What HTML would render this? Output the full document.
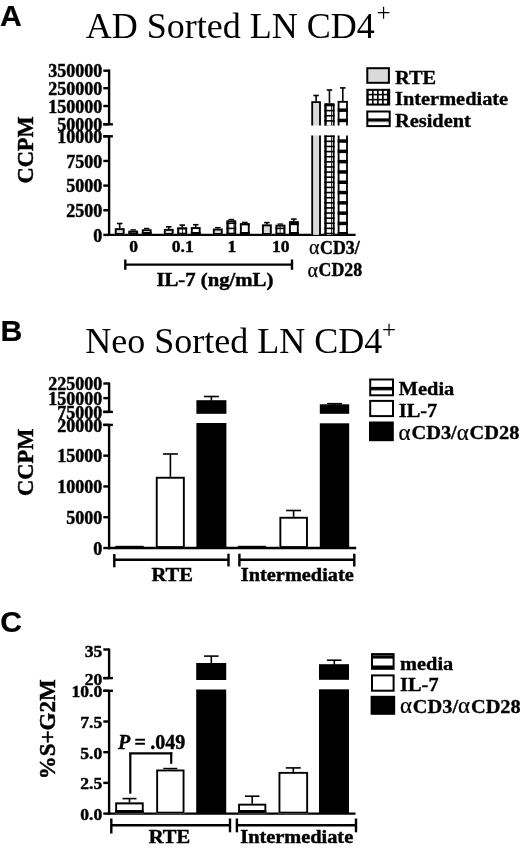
<!DOCTYPE html>
<html><head><meta charset="utf-8"><style>
html,body{margin:0;padding:0;background:#fff;width:520px;height:848px;overflow:hidden}
svg{display:block;filter:grayscale(1) blur(0.3px)}
</style></head><body>
<svg width="520" height="848" viewBox="0 0 520 848">
<defs>
<pattern id="stripeA" patternUnits="userSpaceOnUse" x="0" y="139.3" width="10" height="10.3">
<rect width="10" height="10.3" fill="#fff"/><rect width="10" height="3.5" fill="#000"/></pattern>
<pattern id="gridL" patternUnits="userSpaceOnUse" x="366.9" y="88.7" width="5.05" height="5.05">
<rect width="5.05" height="5.05" fill="#fff"/><rect width="1.6" height="5.05" fill="#000"/><rect width="5.05" height="1.6" fill="#000"/></pattern>
<pattern id="stripeLA" patternUnits="userSpaceOnUse" x="0" y="118.4" width="10" height="20">
<rect width="10" height="20" fill="#fff"/><rect width="10" height="3.3" fill="#000"/></pattern>
<pattern id="stripeLB" patternUnits="userSpaceOnUse" x="0" y="386.9" width="10" height="20">
<rect width="10" height="20" fill="#fff"/><rect width="10" height="3.4" fill="#000"/></pattern>
<pattern id="stripeB" patternUnits="userSpaceOnUse" x="0" y="545" width="10" height="10.2">
<rect width="10" height="10.2" fill="#fff"/><rect width="10" height="2.5" fill="#000"/></pattern>
<pattern id="stripeC" patternUnits="userSpaceOnUse" x="0" y="810.3" width="10" height="10.2">
<rect width="10" height="10.2" fill="#fff"/><rect width="10" height="2.5" fill="#000"/></pattern>
<pattern id="stripeLC" patternUnits="userSpaceOnUse" x="0" y="665.5" width="10" height="10.2">
<rect width="10" height="10.2" fill="#fff"/><rect width="10" height="3.3" fill="#000"/></pattern>
<pattern id="gridG" patternUnits="userSpaceOnUse" x="181.85" y="140.55" width="5.13" height="5.12"><rect width="5.13" height="5.12" fill="#fff"/><rect width="0.75" height="5.12" fill="#000"/><rect width="5.13" height="1.6" fill="#000"/></pattern></defs>
<text x="-0.10" y="26.00" font-family='"Liberation Sans", sans-serif' font-size="30.2" font-weight="bold" text-anchor="start" stroke="#000" stroke-width="0.2" >A</text>
<text x="85.8" y="38" font-family='"Liberation Serif", serif' font-size="36">AD Sorted LN CD4<tspan dx="1.8" dy="-17.5" font-size="25">+</tspan></text>
<line x1="109.10" y1="69.50" x2="109.10" y2="124.30" stroke="#000" stroke-width="2.4"/>
<line x1="103.30" y1="70.70" x2="109.10" y2="70.70" stroke="#000" stroke-width="2.4"/>
<text x="102.20" y="77.30" font-family='"Liberation Serif", serif' font-size="18" font-weight="bold" text-anchor="end" stroke="#000" stroke-width="0.45" >350000</text>
<line x1="103.30" y1="88.20" x2="109.10" y2="88.20" stroke="#000" stroke-width="2.4"/>
<text x="102.20" y="94.80" font-family='"Liberation Serif", serif' font-size="18" font-weight="bold" text-anchor="end" stroke="#000" stroke-width="0.45" >250000</text>
<line x1="103.30" y1="106.00" x2="109.10" y2="106.00" stroke="#000" stroke-width="2.4"/>
<text x="102.20" y="112.60" font-family='"Liberation Serif", serif' font-size="18" font-weight="bold" text-anchor="end" stroke="#000" stroke-width="0.45" >150000</text>
<line x1="103.30" y1="124.30" x2="109.10" y2="124.30" stroke="#000" stroke-width="2.4"/>
<text x="102.20" y="130.90" font-family='"Liberation Serif", serif' font-size="18" font-weight="bold" text-anchor="end" stroke="#000" stroke-width="0.45" >50000</text>
<line x1="103.30" y1="124.30" x2="112.90" y2="124.30" stroke="#000" stroke-width="2.4"/>
<line x1="103.30" y1="136.30" x2="112.90" y2="136.30" stroke="#000" stroke-width="2.4"/>
<line x1="109.10" y1="136.30" x2="109.10" y2="236.00" stroke="#000" stroke-width="2.4"/>
<line x1="103.30" y1="136.30" x2="109.10" y2="136.30" stroke="#000" stroke-width="2.4"/>
<text x="102.20" y="142.90" font-family='"Liberation Serif", serif' font-size="18" font-weight="bold" text-anchor="end" stroke="#000" stroke-width="0.45" >10000</text>
<line x1="103.30" y1="160.95" x2="109.10" y2="160.95" stroke="#000" stroke-width="2.4"/>
<text x="102.20" y="167.55" font-family='"Liberation Serif", serif' font-size="18" font-weight="bold" text-anchor="end" stroke="#000" stroke-width="0.45" >7500</text>
<line x1="103.30" y1="185.60" x2="109.10" y2="185.60" stroke="#000" stroke-width="2.4"/>
<text x="102.20" y="192.20" font-family='"Liberation Serif", serif' font-size="18" font-weight="bold" text-anchor="end" stroke="#000" stroke-width="0.45" >5000</text>
<line x1="103.30" y1="210.25" x2="109.10" y2="210.25" stroke="#000" stroke-width="2.4"/>
<text x="102.20" y="216.85" font-family='"Liberation Serif", serif' font-size="18" font-weight="bold" text-anchor="end" stroke="#000" stroke-width="0.45" >2500</text>
<line x1="103.30" y1="234.90" x2="109.10" y2="234.90" stroke="#000" stroke-width="2.4"/>
<text x="102.20" y="241.50" font-family='"Liberation Serif", serif' font-size="18" font-weight="bold" text-anchor="end" stroke="#000" stroke-width="0.45" >0</text>
<text x="0.00" y="0.00" font-family='"Liberation Serif", serif' font-size="23.5" font-weight="bold" text-anchor="middle" stroke="#000" stroke-width="0.45" transform="translate(32.9,149.9) rotate(-90) scale(0.955,1)">CCPM</text>
<line x1="107.90" y1="234.90" x2="355.60" y2="234.90" stroke="#000" stroke-width="2.4"/>
<line x1="119.70" y1="229.20" x2="119.70" y2="223.50" stroke="#000" stroke-width="1.6"/>
<line x1="116.95" y1="223.50" x2="122.45" y2="223.50" stroke="#000" stroke-width="1.6"/>
<rect x="114.80" y="228.20" width="9.80" height="6.70" fill="#dadada"/>
<rect x="115.75" y="229.15" width="7.90" height="4.80" fill="none" stroke="#000" stroke-width="1.9"/>
<line x1="133.20" y1="231.70" x2="133.20" y2="230.00" stroke="#000" stroke-width="1.6"/>
<line x1="130.45" y1="230.00" x2="135.95" y2="230.00" stroke="#000" stroke-width="1.6"/>
<rect x="128.30" y="230.70" width="9.80" height="4.20" fill="#fff"/>
<rect x="128.30" y="232.71" width="9.80" height="1.60" fill="#000"/>
<rect x="130.93" y="230.70" width="0.80" height="4.20" fill="#000"/>
<rect x="136.06" y="230.70" width="0.80" height="4.20" fill="#000"/>
<rect x="129.25" y="231.65" width="7.90" height="2.30" fill="none" stroke="#000" stroke-width="1.9"/>
<line x1="146.70" y1="230.30" x2="146.70" y2="228.60" stroke="#000" stroke-width="1.6"/>
<line x1="143.95" y1="228.60" x2="149.45" y2="228.60" stroke="#000" stroke-width="1.6"/>
<rect x="141.80" y="229.30" width="9.80" height="5.60" fill="#fff"/>
<rect x="141.80" y="232.00" width="9.80" height="2.90" fill="#000"/>
<rect x="142.75" y="230.25" width="7.90" height="3.70" fill="none" stroke="#000" stroke-width="1.9"/>
<line x1="168.75" y1="229.90" x2="168.75" y2="226.80" stroke="#000" stroke-width="1.6"/>
<line x1="166.00" y1="226.80" x2="171.50" y2="226.80" stroke="#000" stroke-width="1.6"/>
<rect x="163.85" y="228.90" width="9.80" height="6.00" fill="#dadada"/>
<rect x="164.80" y="229.85" width="7.90" height="4.10" fill="none" stroke="#000" stroke-width="1.9"/>
<line x1="182.25" y1="228.50" x2="182.25" y2="225.10" stroke="#000" stroke-width="1.6"/>
<line x1="179.50" y1="225.10" x2="185.00" y2="225.10" stroke="#000" stroke-width="1.6"/>
<rect x="177.35" y="227.50" width="9.80" height="7.40" fill="#fff"/>
<rect x="177.35" y="227.59" width="9.80" height="1.60" fill="#000"/>
<rect x="177.35" y="232.71" width="9.80" height="1.60" fill="#000"/>
<rect x="177.35" y="227.50" width="0.55" height="7.40" fill="#000"/>
<rect x="182.23" y="227.50" width="0.80" height="7.40" fill="#000"/>
<rect x="178.30" y="228.45" width="7.90" height="5.50" fill="none" stroke="#000" stroke-width="1.9"/>
<line x1="195.75" y1="228.10" x2="195.75" y2="224.70" stroke="#000" stroke-width="1.6"/>
<line x1="193.00" y1="224.70" x2="198.50" y2="224.70" stroke="#000" stroke-width="1.6"/>
<rect x="190.85" y="227.10" width="9.80" height="7.80" fill="#fff"/>
<rect x="190.85" y="232.00" width="9.80" height="2.90" fill="#000"/>
<rect x="191.80" y="228.05" width="7.90" height="5.90" fill="none" stroke="#000" stroke-width="1.9"/>
<line x1="217.80" y1="229.60" x2="217.80" y2="227.70" stroke="#000" stroke-width="1.6"/>
<line x1="215.05" y1="227.70" x2="220.55" y2="227.70" stroke="#000" stroke-width="1.6"/>
<rect x="212.90" y="228.60" width="9.80" height="6.30" fill="#dadada"/>
<rect x="213.85" y="229.55" width="7.90" height="4.40" fill="none" stroke="#000" stroke-width="1.9"/>
<line x1="231.30" y1="221.30" x2="231.30" y2="219.60" stroke="#000" stroke-width="1.6"/>
<line x1="228.55" y1="219.60" x2="234.05" y2="219.60" stroke="#000" stroke-width="1.6"/>
<rect x="226.40" y="220.30" width="9.80" height="14.60" fill="#fff"/>
<rect x="226.40" y="222.47" width="9.80" height="1.60" fill="#000"/>
<rect x="226.40" y="227.59" width="9.80" height="1.60" fill="#000"/>
<rect x="226.40" y="232.71" width="9.80" height="1.60" fill="#000"/>
<rect x="228.40" y="220.30" width="0.80" height="14.60" fill="#000"/>
<rect x="233.53" y="220.30" width="0.80" height="14.60" fill="#000"/>
<rect x="227.35" y="221.25" width="7.90" height="12.70" fill="none" stroke="#000" stroke-width="1.9"/>
<line x1="244.80" y1="224.30" x2="244.80" y2="222.50" stroke="#000" stroke-width="1.6"/>
<line x1="242.05" y1="222.50" x2="247.55" y2="222.50" stroke="#000" stroke-width="1.6"/>
<rect x="239.90" y="223.30" width="9.80" height="11.60" fill="#fff"/>
<rect x="239.90" y="223.30" width="9.80" height="1.90" fill="#000"/>
<rect x="239.90" y="232.00" width="9.80" height="2.90" fill="#000"/>
<rect x="240.85" y="224.25" width="7.90" height="9.70" fill="none" stroke="#000" stroke-width="1.9"/>
<line x1="266.85" y1="225.40" x2="266.85" y2="222.60" stroke="#000" stroke-width="1.6"/>
<line x1="264.10" y1="222.60" x2="269.60" y2="222.60" stroke="#000" stroke-width="1.6"/>
<rect x="261.95" y="224.40" width="9.80" height="10.50" fill="#dadada"/>
<rect x="262.90" y="225.35" width="7.90" height="8.60" fill="none" stroke="#000" stroke-width="1.9"/>
<line x1="280.35" y1="225.70" x2="280.35" y2="224.20" stroke="#000" stroke-width="1.6"/>
<line x1="277.60" y1="224.20" x2="283.10" y2="224.20" stroke="#000" stroke-width="1.6"/>
<rect x="275.45" y="224.70" width="9.80" height="10.20" fill="#fff"/>
<rect x="275.45" y="227.59" width="9.80" height="1.60" fill="#000"/>
<rect x="275.45" y="232.71" width="9.80" height="1.60" fill="#000"/>
<rect x="279.70" y="224.70" width="0.80" height="10.20" fill="#000"/>
<rect x="284.83" y="224.70" width="0.42" height="10.20" fill="#000"/>
<rect x="276.40" y="225.65" width="7.90" height="8.30" fill="none" stroke="#000" stroke-width="1.9"/>
<line x1="293.85" y1="222.20" x2="293.85" y2="219.10" stroke="#000" stroke-width="1.6"/>
<line x1="291.10" y1="219.10" x2="296.60" y2="219.10" stroke="#000" stroke-width="1.6"/>
<rect x="288.95" y="221.20" width="9.80" height="13.70" fill="#fff"/>
<rect x="288.95" y="221.70" width="9.80" height="3.50" fill="#000"/>
<rect x="288.95" y="232.00" width="9.80" height="2.90" fill="#000"/>
<rect x="289.90" y="222.15" width="7.90" height="11.80" fill="none" stroke="#000" stroke-width="1.9"/>
<line x1="316.10" y1="102.30" x2="316.10" y2="95.50" stroke="#000" stroke-width="1.6"/>
<line x1="313.35" y1="95.50" x2="318.85" y2="95.50" stroke="#000" stroke-width="1.6"/>
<rect x="311.30" y="101.30" width="9.60" height="24.10" fill="#dadada"/>
<path d="M312.20,125.40V102.20H320.00V125.40" fill="none" stroke="#000" stroke-width="1.8"/>
<rect x="311.30" y="135.40" width="9.60" height="99.50" fill="#dadada"/>
<path d="M312.20,234.90V135.40M320.00,135.40V234.90" fill="none" stroke="#000" stroke-width="1.8"/>
<line x1="329.45" y1="104.30" x2="329.45" y2="90.00" stroke="#000" stroke-width="1.6"/>
<line x1="326.70" y1="90.00" x2="332.20" y2="90.00" stroke="#000" stroke-width="1.6"/>
<rect x="324.30" y="103.30" width="10.30" height="22.10" fill="#fff"/>
<rect x="324.30" y="104.71" width="10.30" height="1.60" fill="#000"/>
<rect x="324.30" y="109.83" width="10.30" height="1.60" fill="#000"/>
<rect x="324.30" y="114.95" width="10.30" height="1.60" fill="#000"/>
<rect x="324.30" y="120.07" width="10.30" height="1.60" fill="#000"/>
<rect x="324.30" y="125.19" width="10.30" height="0.21" fill="#000"/>
<rect x="325.87" y="103.30" width="0.80" height="22.10" fill="#000"/>
<rect x="331.00" y="103.30" width="0.80" height="22.10" fill="#000"/>
<path d="M325.20,125.40V104.20H333.70V125.40" fill="none" stroke="#000" stroke-width="1.8"/>
<rect x="324.30" y="135.40" width="10.30" height="99.50" fill="#fff"/>
<rect x="324.30" y="135.43" width="10.30" height="1.60" fill="#000"/>
<rect x="324.30" y="140.55" width="10.30" height="1.60" fill="#000"/>
<rect x="324.30" y="145.67" width="10.30" height="1.60" fill="#000"/>
<rect x="324.30" y="150.79" width="10.30" height="1.60" fill="#000"/>
<rect x="324.30" y="155.91" width="10.30" height="1.60" fill="#000"/>
<rect x="324.30" y="161.03" width="10.30" height="1.60" fill="#000"/>
<rect x="324.30" y="166.15" width="10.30" height="1.60" fill="#000"/>
<rect x="324.30" y="171.27" width="10.30" height="1.60" fill="#000"/>
<rect x="324.30" y="176.39" width="10.30" height="1.60" fill="#000"/>
<rect x="324.30" y="181.51" width="10.30" height="1.60" fill="#000"/>
<rect x="324.30" y="186.63" width="10.30" height="1.60" fill="#000"/>
<rect x="324.30" y="191.75" width="10.30" height="1.60" fill="#000"/>
<rect x="324.30" y="196.87" width="10.30" height="1.60" fill="#000"/>
<rect x="324.30" y="201.99" width="10.30" height="1.60" fill="#000"/>
<rect x="324.30" y="207.11" width="10.30" height="1.60" fill="#000"/>
<rect x="324.30" y="212.23" width="10.30" height="1.60" fill="#000"/>
<rect x="324.30" y="217.35" width="10.30" height="1.60" fill="#000"/>
<rect x="324.30" y="222.47" width="10.30" height="1.60" fill="#000"/>
<rect x="324.30" y="227.59" width="10.30" height="1.60" fill="#000"/>
<rect x="324.30" y="232.71" width="10.30" height="1.60" fill="#000"/>
<rect x="325.87" y="135.40" width="0.80" height="99.50" fill="#000"/>
<rect x="331.00" y="135.40" width="0.80" height="99.50" fill="#000"/>
<path d="M325.20,234.90V135.40M333.70,135.40V234.90" fill="none" stroke="#000" stroke-width="1.8"/>
<line x1="342.80" y1="101.90" x2="342.80" y2="87.90" stroke="#000" stroke-width="1.6"/>
<line x1="340.05" y1="87.90" x2="345.55" y2="87.90" stroke="#000" stroke-width="1.6"/>
<rect x="337.70" y="100.90" width="10.20" height="24.50" fill="#fff"/>
<rect x="337.70" y="100.90" width="10.20" height="0.70" fill="#000"/>
<rect x="337.70" y="108.40" width="10.20" height="3.50" fill="#000"/>
<rect x="337.70" y="118.70" width="10.20" height="3.50" fill="#000"/>
<path d="M338.60,125.40V101.80H347.00V125.40" fill="none" stroke="#000" stroke-width="1.8"/>
<rect x="337.70" y="135.40" width="10.20" height="99.50" fill="#fff"/>
<rect x="337.70" y="139.30" width="10.20" height="3.50" fill="#000"/>
<rect x="337.70" y="149.60" width="10.20" height="3.50" fill="#000"/>
<rect x="337.70" y="159.90" width="10.20" height="3.50" fill="#000"/>
<rect x="337.70" y="170.20" width="10.20" height="3.50" fill="#000"/>
<rect x="337.70" y="180.50" width="10.20" height="3.50" fill="#000"/>
<rect x="337.70" y="190.80" width="10.20" height="3.50" fill="#000"/>
<rect x="337.70" y="201.10" width="10.20" height="3.50" fill="#000"/>
<rect x="337.70" y="211.40" width="10.20" height="3.50" fill="#000"/>
<rect x="337.70" y="221.70" width="10.20" height="3.50" fill="#000"/>
<rect x="337.70" y="232.00" width="10.20" height="2.90" fill="#000"/>
<path d="M338.60,234.90V135.40M347.00,135.40V234.90" fill="none" stroke="#000" stroke-width="1.8"/>
<text x="133.70" y="252.30" font-family='"Liberation Serif", serif' font-size="17.5" font-weight="bold" text-anchor="middle" stroke="#000" stroke-width="0.45" >0</text>
<text x="182.75" y="252.30" font-family='"Liberation Serif", serif' font-size="17.5" font-weight="bold" text-anchor="middle" stroke="#000" stroke-width="0.45" >0.1</text>
<text x="231.80" y="252.30" font-family='"Liberation Serif", serif' font-size="17.5" font-weight="bold" text-anchor="middle" stroke="#000" stroke-width="0.45" >1</text>
<text x="280.85" y="252.30" font-family='"Liberation Serif", serif' font-size="17.5" font-weight="bold" text-anchor="middle" stroke="#000" stroke-width="0.45" >10</text>
<text x="334.30" y="253.60" font-family='"Liberation Serif", serif' font-size="17.8" font-weight="bold" text-anchor="middle" stroke="#000" stroke-width="0.45" ><tspan font-weight="normal" font-size="20" stroke-width="0.25" dy="0.7">&#945;</tspan><tspan dy="-0.7" dx="0.6">CD3/</tspan></text>
<text x="334.80" y="276.20" font-family='"Liberation Serif", serif' font-size="17.8" font-weight="bold" text-anchor="middle" stroke="#000" stroke-width="0.45" ><tspan font-weight="normal" font-size="20" stroke-width="0.25" dy="0.7">&#945;</tspan><tspan dy="-0.7" dx="0.6">CD28</tspan></text>
<line x1="125.30" y1="264.60" x2="292.00" y2="264.60" stroke="#000" stroke-width="2.4"/>
<line x1="125.30" y1="259.50" x2="125.30" y2="269.80" stroke="#000" stroke-width="2.4"/>
<line x1="292.00" y1="259.50" x2="292.00" y2="269.80" stroke="#000" stroke-width="2.4"/>
<text transform="translate(214.90,285.90) scale(1.08,1)" font-family='"Liberation Serif", serif' font-size="19.2" font-weight="bold" text-anchor="middle" stroke="#000" stroke-width="0.45" >IL-7 (ng/mL)</text>
<rect x="367.3" y="68.2" width="21.6" height="14.6" fill="#dadada" stroke="#000" stroke-width="2"/>
<rect x="367.3" y="89.8" width="21.9" height="14.8" fill="url(#gridL)" stroke="#000" stroke-width="2"/>
<rect x="367.3" y="111.5" width="22.4" height="14.6" fill="url(#stripeLA)" stroke="#000" stroke-width="2"/>
<text transform="translate(395.00,83.90) scale(1.035,1)" font-family='"Liberation Serif", serif' font-size="19.7" font-weight="bold" text-anchor="start" stroke="#000" stroke-width="0.35" >RTE</text>
<text transform="translate(395.00,105.20) scale(1.035,1)" font-family='"Liberation Serif", serif' font-size="19.7" font-weight="bold" text-anchor="start" stroke="#000" stroke-width="0.35" >Intermediate</text>
<text transform="translate(395.00,126.60) scale(1.035,1)" font-family='"Liberation Serif", serif' font-size="19.7" font-weight="bold" text-anchor="start" stroke="#000" stroke-width="0.35" >Resident</text>
<text x="0.60" y="340.80" font-family='"Liberation Sans", sans-serif' font-size="30.2" font-weight="bold" text-anchor="start" stroke="#000" stroke-width="0.2" >B</text>
<text x="85.2" y="353.0" font-family='"Liberation Serif", serif' font-size="36">Neo Sorted LN CD4<tspan dx="-0.2" dy="-15.5" font-size="25">+</tspan></text>
<line x1="109.10" y1="382.50" x2="109.10" y2="411.90" stroke="#000" stroke-width="2.4"/>
<line x1="103.30" y1="383.50" x2="109.10" y2="383.50" stroke="#000" stroke-width="2.4"/>
<text x="102.20" y="390.10" font-family='"Liberation Serif", serif' font-size="18" font-weight="bold" text-anchor="end" stroke="#000" stroke-width="0.45" >225000</text>
<line x1="103.30" y1="398.10" x2="109.10" y2="398.10" stroke="#000" stroke-width="2.4"/>
<text x="102.20" y="404.70" font-family='"Liberation Serif", serif' font-size="18" font-weight="bold" text-anchor="end" stroke="#000" stroke-width="0.45" >150000</text>
<line x1="103.30" y1="411.90" x2="109.10" y2="411.90" stroke="#000" stroke-width="2.4"/>
<text x="102.20" y="418.50" font-family='"Liberation Serif", serif' font-size="18" font-weight="bold" text-anchor="end" stroke="#000" stroke-width="0.45" >75000</text>
<line x1="103.30" y1="411.90" x2="112.90" y2="411.90" stroke="#000" stroke-width="2.4"/>
<line x1="103.30" y1="424.90" x2="112.90" y2="424.90" stroke="#000" stroke-width="2.4"/>
<line x1="109.10" y1="424.90" x2="109.10" y2="549.20" stroke="#000" stroke-width="2.4"/>
<line x1="103.30" y1="424.90" x2="109.10" y2="424.90" stroke="#000" stroke-width="2.4"/>
<text x="102.20" y="431.50" font-family='"Liberation Serif", serif' font-size="18" font-weight="bold" text-anchor="end" stroke="#000" stroke-width="0.45" >20000</text>
<line x1="103.30" y1="455.67" x2="109.10" y2="455.67" stroke="#000" stroke-width="2.4"/>
<text x="102.20" y="462.27" font-family='"Liberation Serif", serif' font-size="18" font-weight="bold" text-anchor="end" stroke="#000" stroke-width="0.45" >15000</text>
<line x1="103.30" y1="486.45" x2="109.10" y2="486.45" stroke="#000" stroke-width="2.4"/>
<text x="102.20" y="493.05" font-family='"Liberation Serif", serif' font-size="18" font-weight="bold" text-anchor="end" stroke="#000" stroke-width="0.45" >10000</text>
<line x1="103.30" y1="517.23" x2="109.10" y2="517.23" stroke="#000" stroke-width="2.4"/>
<text x="102.20" y="523.83" font-family='"Liberation Serif", serif' font-size="18" font-weight="bold" text-anchor="end" stroke="#000" stroke-width="0.45" >5000</text>
<line x1="103.30" y1="548.00" x2="109.10" y2="548.00" stroke="#000" stroke-width="2.4"/>
<text x="102.20" y="554.60" font-family='"Liberation Serif", serif' font-size="18" font-weight="bold" text-anchor="end" stroke="#000" stroke-width="0.45" >0</text>
<text x="0.00" y="0.00" font-family='"Liberation Serif", serif' font-size="23.5" font-weight="bold" text-anchor="middle" stroke="#000" stroke-width="0.45" transform="translate(32.9,462.3) rotate(-90) scale(0.955,1)">CCPM</text>
<line x1="107.90" y1="548.00" x2="356.20" y2="548.00" stroke="#000" stroke-width="2.4"/>
<rect x="115.4" y="545.8" width="28.3" height="2" fill="#000"/>
<rect x="237.8" y="545.8" width="28.3" height="2" fill="#000"/>
<line x1="170.40" y1="478.00" x2="170.40" y2="454.00" stroke="#000" stroke-width="1.6"/>
<line x1="162.90" y1="454.00" x2="177.90" y2="454.00" stroke="#000" stroke-width="1.6"/>
<rect x="155.80" y="476.80" width="29.00" height="71.20" fill="#fff"/>
<rect x="156.75" y="477.75" width="27.10" height="69.30" fill="none" stroke="#000" stroke-width="1.9"/>
<line x1="211.40" y1="401.00" x2="211.40" y2="396.50" stroke="#000" stroke-width="1.6"/>
<line x1="203.90" y1="396.50" x2="218.90" y2="396.50" stroke="#000" stroke-width="1.6"/>
<rect x="196.4" y="400.2" width="30" height="13.6" fill="#000"/>
<rect x="196.4" y="423" width="30" height="125.00" fill="#000"/>
<line x1="293.60" y1="517.50" x2="293.60" y2="510.50" stroke="#000" stroke-width="1.6"/>
<line x1="286.10" y1="510.50" x2="301.10" y2="510.50" stroke="#000" stroke-width="1.6"/>
<rect x="279.40" y="516.80" width="28.50" height="31.20" fill="#fff"/>
<rect x="280.35" y="517.75" width="26.60" height="29.30" fill="none" stroke="#000" stroke-width="1.9"/>
<line x1="334.50" y1="405.00" x2="334.50" y2="403.70" stroke="#000" stroke-width="1.6"/>
<line x1="327.00" y1="403.70" x2="342.00" y2="403.70" stroke="#000" stroke-width="1.6"/>
<rect x="319.8" y="404.3" width="29.4" height="9.5" fill="#000"/>
<rect x="319.8" y="423.3" width="29.4" height="124.70" fill="#000"/>
<line x1="114.30" y1="559.70" x2="228.50" y2="559.70" stroke="#000" stroke-width="2.4"/>
<line x1="114.30" y1="554.00" x2="114.30" y2="567.30" stroke="#000" stroke-width="2.4"/>
<line x1="228.50" y1="553.70" x2="228.50" y2="566.50" stroke="#000" stroke-width="2.4"/>
<line x1="239.40" y1="559.70" x2="354.30" y2="559.70" stroke="#000" stroke-width="2.4"/>
<line x1="239.40" y1="553.70" x2="239.40" y2="566.50" stroke="#000" stroke-width="2.4"/>
<line x1="354.30" y1="553.70" x2="354.30" y2="566.50" stroke="#000" stroke-width="2.4"/>
<text transform="translate(172.20,581.20) scale(1.07,1)" font-family='"Liberation Serif", serif' font-size="19.2" font-weight="bold" text-anchor="middle" stroke="#000" stroke-width="0.45" >RTE</text>
<text transform="translate(297.30,581.40) scale(1.06,1)" font-family='"Liberation Serif", serif' font-size="19.2" font-weight="bold" text-anchor="middle" stroke="#000" stroke-width="0.45" >Intermediate</text>
<rect x="370.2" y="379.5" width="22.8" height="15.8" fill="url(#stripeLB)" stroke="#000" stroke-width="2"/>
<rect x="370.2" y="400.9" width="22.8" height="15.2" fill="#fff" stroke="#000" stroke-width="2"/>
<rect x="369" y="421.5" width="24.8" height="19.7" fill="#000"/>
<text transform="translate(398.80,395.20) scale(1.035,1)" font-family='"Liberation Serif", serif' font-size="19.7" font-weight="bold" text-anchor="start" stroke="#000" stroke-width="0.35" >Media</text>
<text transform="translate(398.80,417.20) scale(1.035,1)" font-family='"Liberation Serif", serif' font-size="19.7" font-weight="bold" text-anchor="start" stroke="#000" stroke-width="0.35" >IL-7</text>
<text transform="translate(398.60,439.30) scale(1.035,1)" font-family='"Liberation Serif", serif' font-size="19.7" font-weight="bold" text-anchor="start" stroke="#000" stroke-width="0.35" ><tspan font-weight="normal" font-size="22.2" stroke-width="0.25" dy="0.8">&#945;</tspan><tspan dy="-0.8" dx="0.8">CD3/</tspan><tspan font-weight="normal" font-size="22.2" stroke-width="0.25" dy="0.8">&#945;</tspan><tspan dy="-0.8" dx="0.8">CD28</tspan></text>
<text x="0.20" y="632.40" font-family='"Liberation Sans", sans-serif' font-size="30.2" font-weight="bold" text-anchor="start" stroke="#000" stroke-width="0.2" >C</text>
<line x1="109.10" y1="648.50" x2="109.10" y2="678.10" stroke="#000" stroke-width="2.4"/>
<line x1="103.30" y1="649.50" x2="109.10" y2="649.50" stroke="#000" stroke-width="2.4"/>
<line x1="103.30" y1="678.10" x2="109.10" y2="678.10" stroke="#000" stroke-width="2.4"/>
<line x1="103.30" y1="678.10" x2="112.90" y2="678.10" stroke="#000" stroke-width="2.4"/>
<text transform="translate(102.20,656.50) scale(1.01,1)" font-family='"Liberation Serif", serif' font-size="17.4" font-weight="bold" text-anchor="end" stroke="#000" stroke-width="0.45" >35</text>
<text transform="translate(102.20,685.30) scale(1.01,1)" font-family='"Liberation Serif", serif' font-size="17.4" font-weight="bold" text-anchor="end" stroke="#000" stroke-width="0.45" >20</text>
<line x1="103.30" y1="690.80" x2="112.90" y2="690.80" stroke="#000" stroke-width="2.4"/>
<line x1="109.10" y1="690.80" x2="109.10" y2="814.80" stroke="#000" stroke-width="2.4"/>
<line x1="103.30" y1="690.80" x2="109.10" y2="690.80" stroke="#000" stroke-width="2.4"/>
<text transform="translate(102.20,697.30) scale(1.01,1)" font-family='"Liberation Serif", serif' font-size="17.4" font-weight="bold" text-anchor="end" stroke="#000" stroke-width="0.45" >10.0</text>
<line x1="103.30" y1="721.50" x2="109.10" y2="721.50" stroke="#000" stroke-width="2.4"/>
<text transform="translate(102.20,728.00) scale(1.01,1)" font-family='"Liberation Serif", serif' font-size="17.4" font-weight="bold" text-anchor="end" stroke="#000" stroke-width="0.45" >7.5</text>
<line x1="103.30" y1="752.20" x2="109.10" y2="752.20" stroke="#000" stroke-width="2.4"/>
<text transform="translate(102.20,758.70) scale(1.01,1)" font-family='"Liberation Serif", serif' font-size="17.4" font-weight="bold" text-anchor="end" stroke="#000" stroke-width="0.45" >5.0</text>
<line x1="103.30" y1="782.90" x2="109.10" y2="782.90" stroke="#000" stroke-width="2.4"/>
<text transform="translate(102.20,789.40) scale(1.01,1)" font-family='"Liberation Serif", serif' font-size="17.4" font-weight="bold" text-anchor="end" stroke="#000" stroke-width="0.45" >2.5</text>
<line x1="103.30" y1="813.60" x2="109.10" y2="813.60" stroke="#000" stroke-width="2.4"/>
<text transform="translate(102.20,820.10) scale(1.01,1)" font-family='"Liberation Serif", serif' font-size="17.4" font-weight="bold" text-anchor="end" stroke="#000" stroke-width="0.45" >0.0</text>
<text x="0.00" y="0.00" font-family='"Liberation Serif", serif' font-size="23" font-weight="bold" text-anchor="middle" stroke="#000" stroke-width="0.45" transform="translate(55.2,729.3) rotate(-90)">%S+G2M</text>
<line x1="107.90" y1="813.60" x2="355.50" y2="813.60" stroke="#000" stroke-width="2.4"/>
<line x1="129.50" y1="803.00" x2="129.50" y2="798.60" stroke="#000" stroke-width="1.6"/>
<line x1="122.50" y1="798.60" x2="136.50" y2="798.60" stroke="#000" stroke-width="1.6"/>
<rect x="115.20" y="802.50" width="28.50" height="11.10" fill="#fff"/>
<rect x="115.20" y="802.50" width="28.50" height="0.30" fill="#000"/>
<rect x="115.20" y="810.00" width="28.50" height="3.00" fill="#000"/>
<rect x="116.15" y="803.45" width="26.60" height="9.20" fill="none" stroke="#000" stroke-width="1.9"/>
<line x1="170.30" y1="770.00" x2="170.30" y2="768.60" stroke="#000" stroke-width="1.6"/>
<line x1="163.30" y1="768.60" x2="177.30" y2="768.60" stroke="#000" stroke-width="1.6"/>
<rect x="156.20" y="769.50" width="28.30" height="44.10" fill="#fff"/>
<rect x="157.15" y="770.45" width="26.40" height="42.20" fill="none" stroke="#000" stroke-width="1.9"/>
<line x1="211.30" y1="664.00" x2="211.30" y2="656.10" stroke="#000" stroke-width="1.6"/>
<line x1="204.05" y1="656.10" x2="218.55" y2="656.10" stroke="#000" stroke-width="1.6"/>
<rect x="196.2" y="663" width="30" height="17" fill="#000"/>
<rect x="196.2" y="689.5" width="30" height="124.10" fill="#000"/>
<line x1="252.20" y1="804.00" x2="252.20" y2="796.20" stroke="#000" stroke-width="1.6"/>
<line x1="244.95" y1="796.20" x2="259.45" y2="796.20" stroke="#000" stroke-width="1.6"/>
<rect x="238.10" y="803.70" width="28.20" height="9.90" fill="#fff"/>
<rect x="238.10" y="810.00" width="28.20" height="3.00" fill="#000"/>
<rect x="239.05" y="804.65" width="26.30" height="8.00" fill="none" stroke="#000" stroke-width="1.9"/>
<line x1="293.30" y1="772.00" x2="293.30" y2="767.90" stroke="#000" stroke-width="1.6"/>
<line x1="285.80" y1="767.90" x2="300.80" y2="767.90" stroke="#000" stroke-width="1.6"/>
<rect x="278.50" y="771.90" width="29.60" height="41.70" fill="#fff"/>
<rect x="279.45" y="772.85" width="27.70" height="39.80" fill="none" stroke="#000" stroke-width="1.9"/>
<line x1="334.30" y1="665.00" x2="334.30" y2="660.20" stroke="#000" stroke-width="1.6"/>
<line x1="327.05" y1="660.20" x2="341.55" y2="660.20" stroke="#000" stroke-width="1.6"/>
<rect x="319" y="664.2" width="30" height="15.6" fill="#000"/>
<rect x="319" y="689.3" width="30" height="124.30" fill="#000"/>
<line x1="130.30" y1="793.70" x2="130.30" y2="753.40" stroke="#000" stroke-width="2.2"/>
<line x1="129.20" y1="753.40" x2="172.30" y2="753.40" stroke="#000" stroke-width="2.2"/>
<line x1="171.20" y1="752.30" x2="171.20" y2="763.80" stroke="#000" stroke-width="2.2"/>
<text x="117.9" y="748.8" font-family='"Liberation Serif", serif' font-size="20" font-weight="bold" stroke="#000" stroke-width="0.4" word-spacing="-0.6"><tspan font-style="italic">P</tspan> = .049</text>
<line x1="111.30" y1="825.20" x2="230.00" y2="825.20" stroke="#000" stroke-width="2.4"/>
<line x1="111.30" y1="818.50" x2="111.30" y2="833.50" stroke="#000" stroke-width="2.4"/>
<line x1="230.00" y1="818.50" x2="230.00" y2="832.30" stroke="#000" stroke-width="2.4"/>
<line x1="236.90" y1="825.20" x2="356.00" y2="825.20" stroke="#000" stroke-width="2.4"/>
<line x1="236.90" y1="818.50" x2="236.90" y2="832.30" stroke="#000" stroke-width="2.4"/>
<line x1="356.00" y1="818.50" x2="356.00" y2="832.30" stroke="#000" stroke-width="2.4"/>
<text transform="translate(169.40,842.70) scale(1.07,1)" font-family='"Liberation Serif", serif' font-size="19.2" font-weight="bold" text-anchor="middle" stroke="#000" stroke-width="0.45" >RTE</text>
<text transform="translate(296.70,842.60) scale(1.06,1)" font-family='"Liberation Serif", serif' font-size="19.2" font-weight="bold" text-anchor="middle" stroke="#000" stroke-width="0.45" >Intermediate</text>
<rect x="372" y="654.1" width="21.6" height="14.7" fill="url(#stripeLC)" stroke="#000" stroke-width="2"/>
<rect x="372" y="675.4" width="21.6" height="15.3" fill="#fff" stroke="#000" stroke-width="2"/>
<rect x="370.6" y="695.8" width="24.6" height="19" fill="#000"/>
<text transform="translate(400.10,670.20) scale(1.035,1)" font-family='"Liberation Serif", serif' font-size="19.7" font-weight="bold" text-anchor="start" stroke="#000" stroke-width="0.35" >media</text>
<text transform="translate(400.10,691.20) scale(1.035,1)" font-family='"Liberation Serif", serif' font-size="19.7" font-weight="bold" text-anchor="start" stroke="#000" stroke-width="0.35" >IL-7</text>
<text transform="translate(399.90,712.50) scale(1.035,1)" font-family='"Liberation Serif", serif' font-size="19.7" font-weight="bold" text-anchor="start" stroke="#000" stroke-width="0.35" ><tspan font-weight="normal" font-size="22.2" stroke-width="0.25" dy="0.8">&#945;</tspan><tspan dy="-0.8" dx="0.8">CD3/</tspan><tspan font-weight="normal" font-size="22.2" stroke-width="0.25" dy="0.8">&#945;</tspan><tspan dy="-0.8" dx="0.8">CD28</tspan></text>
</svg>
</body></html>
